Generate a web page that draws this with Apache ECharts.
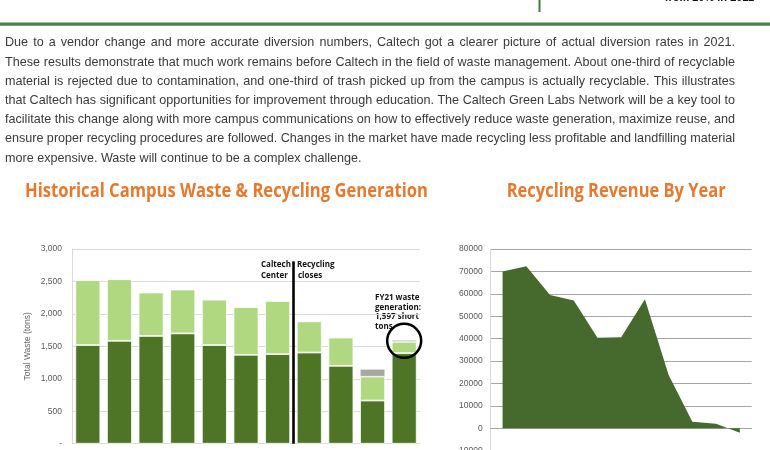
<!DOCTYPE html>
<html><head><meta charset="utf-8">
<script src="https://cdn.jsdelivr.net/npm/echarts@6/dist/echarts.min.js"></script>
<style>
html,body{margin:0;padding:0;background:#fff;}
#wrap{position:relative;width:770px;height:450px;overflow:hidden;background:#fff;}
#chart{position:absolute;left:0;top:0;width:770px;height:450px;}
#para{position:absolute;left:5px;top:33.4px;width:730px;font-family:'Liberation Sans',Arial,sans-serif;font-size:12.6px;line-height:19.2px;color:#3a3a3a;}
#para div{white-space:nowrap;height:19.2px;}
#para span{display:inline-block;white-space:nowrap;}
</style>
</head><body>
<div id="wrap">
<div id="chart"></div>
<div id="para"></div>
</div>
<script>
// ---- text ----
const paragraphLines = [
  "Due to a vendor change and more accurate diversion numbers, Caltech got a clearer picture of actual diversion rates in 2021.",
  "These results demonstrate that much work remains before Caltech in the field of waste management. About one-third of recyclable",
  "material is rejected due to contamination, and one-third of trash picked up from the campus is actually recyclable. This illustrates",
  "that Caltech has significant opportunities for improvement through education. The Caltech Green Labs Network will be a key tool to",
  "facilitate this change along with more campus communications on how to effectively reduce waste generation, maximize reuse, and",
  "ensure proper recycling procedures are followed. Changes in the market have made recycling less profitable and landfilling material",
  "more expensive. Waste will continue to be a complex challenge."
];
const leftTitle = "Historical Campus Waste & Recycling Generation";
const rightTitle = "Recycling Revenue By Year";
const headerText = "from 20% in 2011";

// ---- waste chart data (tons) ----
const wasteYears = ['FY11','FY12','FY13','FY14','FY15','FY16','FY17','FY18','FY19','FY20','FY21'];
const landfill  = [1520, 1585, 1660, 1700, 1520, 1370, 1380, 1405, 1200, 665, 1395];
const recycled  = [1000, 950, 670, 675, 700, 735, 820, 480, 435, 370, 175];
const otherWaste = [0, 0, 0, 0, 0, 0, 0, 0, 10, 115, 27];
const wasteTickLabels = ['-', '500', '1,000', '1,500', '2,000', '2,500', '3,000'];

// ---- revenue chart data ($) ----
const revenueYears = ['FY11','FY12','FY13','FY14','FY15','FY16','FY17','FY18','FY19','FY20','FY21'];
const revenue = [70000, 72300, 59500, 57000, 40400, 40600, 57600, 23800, 2900, 2000, -2000];

// paragraph (HTML, justified)
const para = document.getElementById('para');
paragraphLines.forEach((t, i) => {
  const d = document.createElement('div');
  const s = document.createElement('span');
  s.textContent = t;
  d.appendChild(s);
  para.appendChild(d);
  if (i < paragraphLines.length - 1) {
    const w = s.getBoundingClientRect().width;
    const n = (t.match(/ /g) || []).length;
    s.style.wordSpacing = ((730 - w) / n) + 'px';
  }
});

function fitScale(text, font, target) {
  const c = document.createElement('canvas').getContext('2d');
  c.font = font;
  return target / c.measureText(text).width;
}
const titleFont = 'bold 20px "Open Sans"';
const sL = fitScale(leftTitle, titleFont, 403);
const sR = fitScale(rightTitle, titleFont, 219);

const chart = echarts.init(document.getElementById('chart'), null, {renderer: 'canvas'});
const annoStyle = {fontFamily: 'Open Sans', fontWeight: 'bold', fontSize: 8, fill: '#111'};
const DARK = '#4e7525', LIGHT = '#b0d880', GRAY = '#a6a6a6';

chart.setOption({
  animation: false,
  grid: [
    {left: 72, top: 249, width: 348, height: 194.7, outerBoundsMode: 'none', containLabel: false},
    {left: 490.7, top: 249, width: 261, height: 201.6, outerBoundsMode: 'none', containLabel: false}
  ],
  xAxis: [
    {type: 'category', gridIndex: 0, data: wasteYears,
     axisLabel: {show: false}, axisTick: {show: false},
     axisLine: {lineStyle: {color: '#d9d9d9'}}},
    {type: 'value', gridIndex: 0, min: 0, max: 11, show: false},
    {type: 'category', gridIndex: 1, data: revenueYears, boundaryGap: true,
     axisLabel: {show: false}, axisTick: {show: false},
     axisLine: {lineStyle: {color: '#a6a6a6'}}}
  ],
  yAxis: [
    {type: 'value', gridIndex: 0, min: 0, max: 3000, interval: 500,
     name: 'Total Waste (tons)', nameLocation: 'middle', nameGap: 40,
     nameTextStyle: {fontSize: 8.5, color: '#666', fontFamily: 'Liberation Sans'},
     axisLine: {show: true, lineStyle: {color: '#d9d9d9'}}, axisTick: {show: false},
     axisLabel: {fontSize: 8.5, color: '#595959', margin: 10, fontFamily: 'Liberation Sans',
       formatter: v => wasteTickLabels[Math.round(v / 500)]},
     splitLine: {lineStyle: {color: '#d9d9d9'}}},
    {type: 'value', gridIndex: 1, min: -10000, max: 80000, interval: 10000,
     axisLine: {show: true, lineStyle: {color: '#d9d9d9'}}, axisTick: {show: false},
     axisLabel: {fontSize: 8.5, color: '#595959', margin: 8, fontFamily: 'Liberation Sans',
       formatter: v => String(v)},
     splitLine: {lineStyle: {color: '#a6a6a6'}}}
  ],
  series: [
    {type: 'bar', xAxisIndex: 0, yAxisIndex: 0, stack: 'w', data: landfill, barCategoryGap: '21%',
     itemStyle: {color: DARK, borderColor: '#fff', borderWidth: 0.8}},
    {type: 'bar', xAxisIndex: 0, yAxisIndex: 0, stack: 'w', data: recycled,
     itemStyle: {color: LIGHT, borderColor: '#fff', borderWidth: 0.8}},
    {type: 'bar', xAxisIndex: 0, yAxisIndex: 0, stack: 'w', data: otherWaste,
     itemStyle: {color: GRAY, borderColor: '#fff', borderWidth: 0.5},
     markPoint: {silent: true, symbol: 'circle', symbolSize: 34,
       itemStyle: {color: 'rgba(0,0,0,0)', borderColor: '#000', borderWidth: 2.5},
       label: {show: false},
       data: [{coord: ['FY21', 1585]}]}},
    {type: 'line', xAxisIndex: 1, yAxisIndex: 0, data: [], silent: true,
     markLine: {silent: true, symbol: 'none', label: {show: false},
       lineStyle: {color: '#000', width: 2.6, type: 'solid'},
       data: [[{coord: [7, 0]}, {coord: [7, 2810]}]]}},
    {type: 'line', xAxisIndex: 2, yAxisIndex: 1, data: revenue, symbol: 'none',
     lineStyle: {width: 0}, areaStyle: {color: '#466a2d', opacity: 1}}
  ],
  graphic: [
    {type: 'rect', shape: {x: 0, y: 22.5, width: 770, height: 3.2}, style: {fill: '#4a7e4e'}},
    {type: 'rect', shape: {x: 538.5, y: 0, width: 2, height: 12}, style: {fill: '#3f7a44'}},
    {type: 'text', x: 754, y: 3.5, style: {text: headerText, align: 'right', verticalAlign: 'bottom',
      fontFamily: 'Liberation Sans', fontWeight: 'bold', fontSize: 11, fill: '#111'}},
    {type: 'text', x: 25, y: 191.7, scaleX: sL, style: {text: leftTitle, verticalAlign: 'middle',
      font: titleFont, fill: '#e8792c'}},
    {type: 'text', x: 506.7, y: 191.7, scaleX: sR, style: {text: rightTitle, verticalAlign: 'middle',
      font: titleFont, fill: '#e8792c'}},
    {type: 'text', x: 261, y: 265, style: Object.assign({text: 'Caltech', verticalAlign: 'middle'}, annoStyle)},
    {type: 'text', x: 261, y: 275.7, style: Object.assign({text: 'Center', verticalAlign: 'middle'}, annoStyle)},
    {type: 'text', x: 297, y: 265, style: Object.assign({text: 'Recycling', verticalAlign: 'middle'}, annoStyle)},
    {type: 'text', x: 298, y: 275.7, style: Object.assign({text: 'closes', verticalAlign: 'middle'}, annoStyle)},
    {type: 'text', x: 375, y: 297.7, style: Object.assign({text: 'FY21 waste', verticalAlign: 'middle'}, annoStyle)},
    {type: 'text', x: 375, y: 307.3, style: Object.assign({text: 'generation:', verticalAlign: 'middle'}, annoStyle)},
    {type: 'text', x: 375, y: 317, style: Object.assign({text: '1,597 short', verticalAlign: 'middle'}, annoStyle)},
    {type: 'text', x: 375, y: 326.7, style: Object.assign({text: 'tons', verticalAlign: 'middle'}, annoStyle)}
  ]
});
</script>
</body></html>
